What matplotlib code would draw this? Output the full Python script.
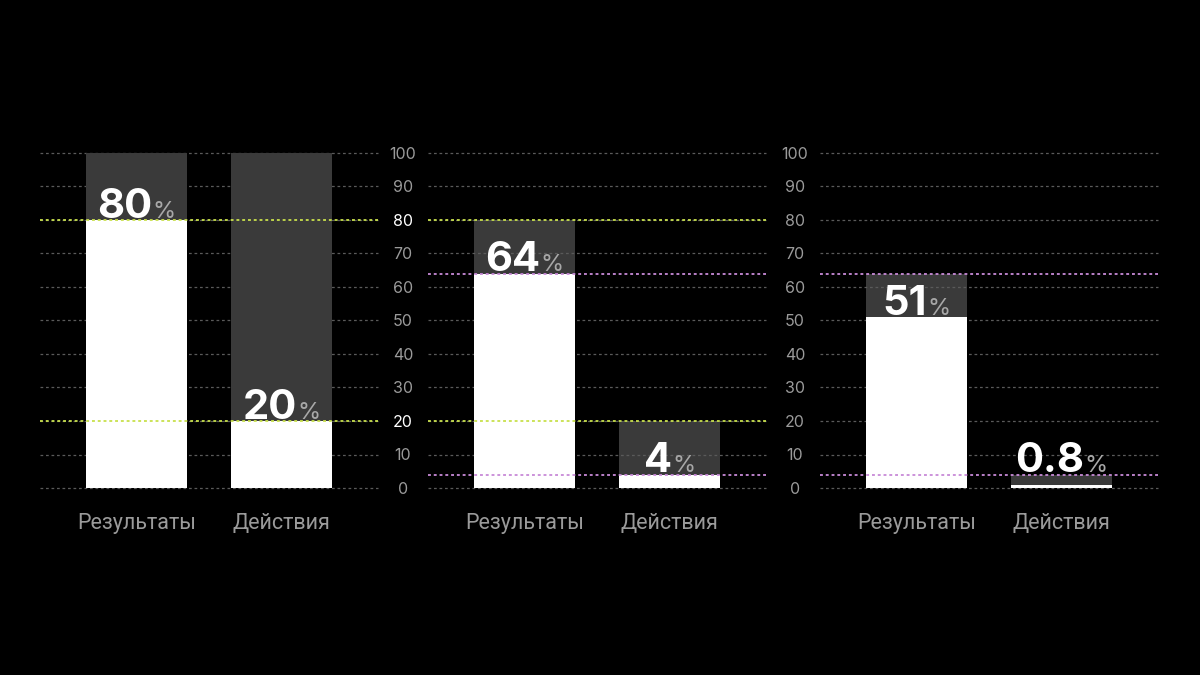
import matplotlib.pyplot as plt
from matplotlib.offsetbox import TextArea, HPacker, AnnotationBbox

# data
categories = ["Результаты", "Действия"]
base_values = [[100, 100], [80, 20], [64, 4]]      # grey background bar heights
share_values = [[80, 20], [64, 4], [51, 0.8]]      # white bar heights
line_levels = [[80, 20], [80, 20, 64, 4], [64, 4]]  # highlighted dotted levels per panel
line_colors = [["#c8e04c", "#c8e04c"],
               ["#c8e04c", "#c8e04c", "#c88ad8", "#c88ad8"],
               ["#c88ad8", "#c88ad8"]]
white_ticks = [[], [80, 20], []]
yticks = list(range(0, 101, 10))

BG = "black"
GREY_BAR = "#3a3a3a"
GRID = "#5a5a5a"
TICK = "#9a9a9a"
NUM_FONT = ["Inter", "DejaVu Sans"]
CAT_FONT = ["Roboto", "DejaVu Sans"]

fig = plt.figure(figsize=(12, 6.75), dpi=100, facecolor=BG)

lefts = [40 / 1200, 428 / 1200, 820 / 1200]
bottom = 1 - 488 / 675
height = (488 - 153) / 675
width = 338 / 1200

for i in range(3):
    ax = fig.add_axes([lefts[i], bottom, width, height])
    ax.set_facecolor(BG)
    ax.set_xlim(-0.667, 1.667)
    ax.set_ylim(0, 100)
    for s in ax.spines.values():
        s.set_visible(False)

    x = list(range(len(categories)))
    w = 0.694

    # dotted grid (hidden behind the grey bars in the first panel)
    grid_z = 0.5 if i == 0 else 1.5
    for t in yticks:
        ax.axhline(t, color=GRID, lw=0.9, ls=(0, (2.2, 2.2)), zorder=grid_z, clip_on=False)

    ax.bar(x, base_values[i], width=w, color=GREY_BAR, zorder=1)
    ax.bar(x, share_values[i], width=w, color="white", zorder=2)

    # highlighted levels
    for lvl, c in zip(line_levels[i], line_colors[i]):
        ax.axhline(lvl, color=c, lw=1.3, ls=(0, (1.6, 1.6)), zorder=3)

    # value labels: big number + small grey %
    for xi, v, b in zip(x, share_values[i], base_values[i]):
        y_lab = v if b - v >= 10 else b
        num = TextArea(f"{v:g}", textprops=dict(color="white", fontsize=30, fontweight="bold", family=NUM_FONT))
        pct = TextArea("%", textprops=dict(color="#a8a8a8", fontsize=17, family=NUM_FONT))
        box = HPacker(children=[num, pct], align="baseline", pad=0, sep=0)
        ab = AnnotationBbox(box, (xi, y_lab), xybox=(0, -4), xycoords="data",
                            boxcoords="offset points", box_alignment=(0.5, 0),
                            frameon=False, zorder=5)
        ax.add_artist(ab)

    ax.set_xticks(x)
    ax.set_xticklabels(categories, color=TICK, fontsize=15.5, family=CAT_FONT)
    ax.tick_params(axis="x", length=0, pad=18)

    ax.set_yticks(yticks)
    if i == 0:
        ax.set_yticklabels([])
        ax.tick_params(axis="y", length=0)
    else:
        ax.set_yticklabels([str(t) for t in yticks], fontsize=11.5, family=NUM_FONT, ha="center")
        ax.tick_params(axis="y", length=0, pad=18)
        for lab, t in zip(ax.get_yticklabels(), yticks):
            lab.set_color("white" if t in white_ticks[i] else TICK)

fig.savefig("out.png", dpi=100, facecolor=BG)
